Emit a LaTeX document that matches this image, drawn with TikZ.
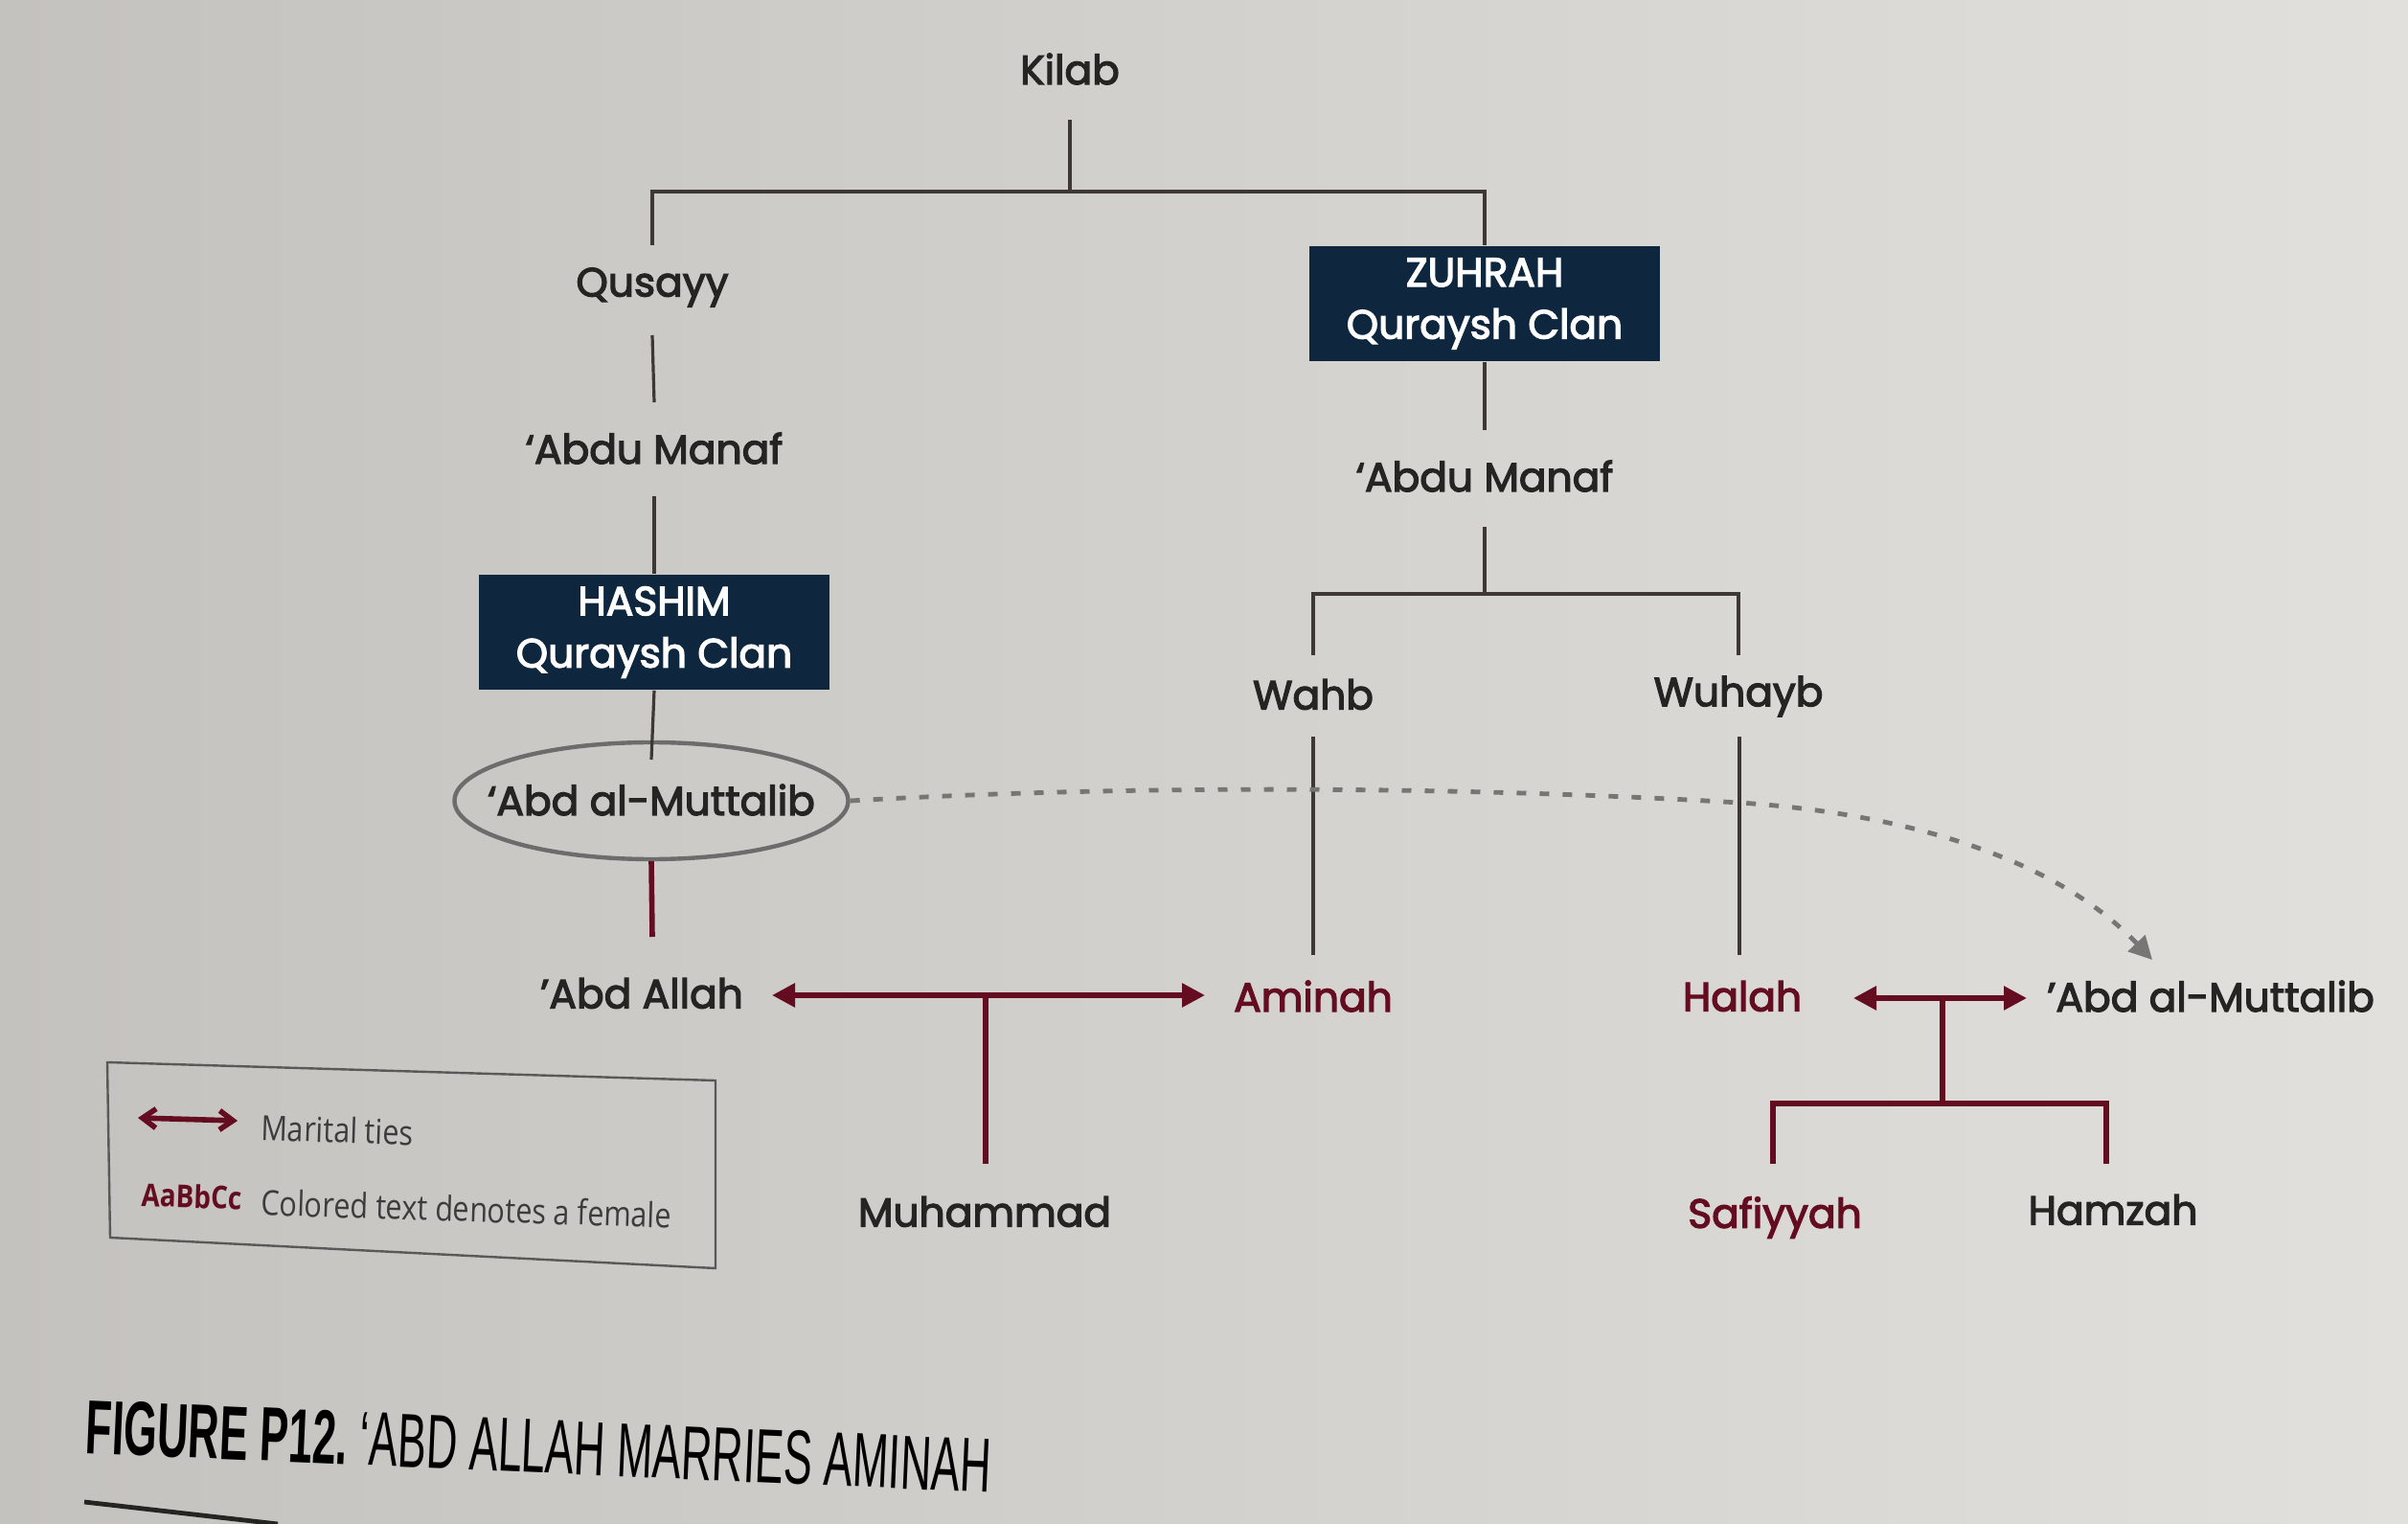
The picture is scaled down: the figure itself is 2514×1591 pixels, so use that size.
\documentclass[tikz,border=0pt]{standalone}
\usepackage{fontspec}
\setmainfont{Poppins}[FakeBold=3]
\newfontfamily\capfont[FakeStretch=0.56]{Liberation Sans}
\newfontfamily\legfont[FakeStretch=0.85]{Open Sans}
\usetikzlibrary{arrows.meta,calc,shapes.geometric}
\definecolor{bgA}{RGB}{196,194,191}
\definecolor{bgB}{RGB}{226,224,220}
\definecolor{navy}{RGB}{14,38,62}
\definecolor{maroon}{RGB}{100,12,32}
\definecolor{ink}{RGB}{38,36,34}
\definecolor{treeln}{RGB}{62,56,52}
\definecolor{dashgray}{RGB}{118,118,116}
\definecolor{leggray}{RGB}{60,60,60}
\begin{document}
\begin{tikzpicture}[x=0.25pt,y=-0.25pt,
 lab/.style={font=\fontsize{10.6}{13}\selectfont, text=ink, inner sep=0pt},
 fem/.style={lab, text=maroon},
 clan/.style={fill=navy, text=white, minimum width=91.5pt, minimum height=30pt, align=center, font=\fontsize{10.6}{13.6}\selectfont, inner sep=0pt},
 ln/.style={draw=treeln, line width=0.8pt},
 rl/.style={draw=maroon, line width=1.4pt},
 marr/.style={rl, {Triangle[length=6pt,width=6pt]}-{Triangle[length=6pt,width=6pt]}},
 dsh/.style={draw=dashgray, line width=1.2pt, dash pattern=on 2.5pt off 3.5pt, -{Triangle[length=6pt,width=6pt]}},
 leg/.style={font=\legfont\fontsize{9}{11}\selectfont, text=leggray, inner sep=0pt, anchor=west, rotate=-1.8},
]
\shade[left color=bgA, right color=bgB] (0,0) rectangle (2514,1591);
\useasboundingbox (0,0) rectangle (2514,1591);

% nodes
\node[lab] (kilab) at (1117,72) {Kilab};
\node[lab] (qusayy) at (681,300) {Qusayy};
\node[lab] (amL) at (683,468) {‘Abdu Manaf};
\node[clan] (hashim) at (683,660) {HASHIM\\Quraysh Clan};
\node[ellipse, draw=gray!85!black, line width=1.1pt, minimum width=102.75pt, minimum height=30.5pt, inner sep=0pt] (mutLe) at (680,836) {};
\node[lab] (mutL) at (680,835) {‘Abd al-Muttalib};
\node[lab] (abdallah) at (670,1037) {’Abd Allah};
\node[fem] (aminah) at (1371,1040) {Aminah};
\node[lab] (muhammad) at (1028,1265) {Muhammad};
\node[clan] (zuhrah) at (1550,317) {ZUHRAH\\Quraysh Clan};
\node[lab] (amR) at (1550,497) {‘Abdu Manaf};
\node[lab] (wahb) at (1371,725) {Wahb};
\node[lab] (wuhayb) at (1815,727) {Wuhayb};
\node[fem] (halah) at (1819,1040) {Halah};
\node[lab] (mutR) at (2308,1040) {’Abd al-Muttalib};
\node[fem] (safiyyah) at (1853,1271) {Safiyyah};
\node[lab] (hamzah) at (2206,1263) {Hamzah};

% Kilab branch
\draw[ln] ($(kilab)+(0,53)$) -- ++(0,75) coordinate (kj);
\draw[ln] ($(qusayy)+(0,-44)$) |- (kj) -| (zuhrah.north);
\draw[ln] ($(qusayy)+(0,50)$) -- ($(amL)+(0,-48)$);
\draw[ln] ($(amL)+(0,50)$) -- (hashim.north);
\draw[ln] (hashim.south) -- ($(mutL)+(0,-42)$);
\draw[rl] (mutLe.south) -- ($(abdallah)+(11,-59)$);

% marriage 1
\draw[marr] ($(abdallah)+(136,2)$) -- ($(aminah)+(-113,-1)$);
\draw[rl] ($(muhammad)+(1,-50)$) -- ($(muhammad)+(1,-226)$);

% Zuhrah branch
\draw[ln] (zuhrah.south) -- ($(amR)+(0,-48)$);
\draw[ln] ($(amR)+(0,53)$) -- ++(0,70) coordinate (rj);
\draw[ln] ($(wahb)+(0,-41)$) |- (rj) -| ($(wuhayb)+(0,-43)$);
\draw[ln] ($(wahb)+(0,44)$) -- ($(aminah)+(0,-43)$);
\draw[ln] ($(wuhayb)+(1,42)$) -- ($(halah)+(-3,-43)$);

% marriage 2
\draw[marr] ($(halah)+(116,2)$) -- ($(mutR)+(-192,2)$);
\draw[rl] ($(halah)+(209,2)$) -- ++(0,110) coordinate (hj);
\draw[rl] ($(safiyyah)+(-2,-56)$) |- (hj) -| ($(hamzah)+(-7,-48)$);

% dashed link
\draw[dsh] (mutLe.east) .. controls (1200,818) and (1550,822) .. (1816,838)
  .. controls (2000,850) and (2150,900) .. ($(mutR)+(-61,-38)$);

% legend
\coordinate (lg1) at (112,1109);
\coordinate (lg2) at (747,1128);
\coordinate (lg3) at (747,1324);
\coordinate (lg4) at (115,1292);
\draw[draw=gray!70!black, line width=0.6pt] (lg1) -- (lg2) -- (lg3) -- (lg4) -- cycle;
\coordinate (la) at (144,1167);
\coordinate (lb) at (248,1170);
\draw[maroon, line width=1.4pt, {Straight Barb[length=3.5pt,width=5pt]}-{Straight Barb[length=3.5pt,width=5pt]}] (la) -- (lb);
\node[leg] (lt1) at (272,1177) {Marital ties};
\node[leg, text=maroon, font=\legfont\bfseries\fontsize{8.2}{10}\selectfont] (lt2) at (147,1247) {AaBbCc};
\node[leg] (lt3) at (272,1255) {Colored text denotes a female};

% caption
\node[anchor=base west, rotate=-2.5, inner sep=0pt, text=black, font=\capfont\fontsize{20}{24}\selectfont] (cap) at (88,1517) {\bfseries FIGURE P12.\mdseries\ ‘ABD ALLAH MARRIES AMINAH};
\coordinate (r1) at (88,1568);
\coordinate (r2) at (290,1591);
\draw[ink, line width=1.2pt] (r1) -- (r2);
\end{tikzpicture}
\end{document}
